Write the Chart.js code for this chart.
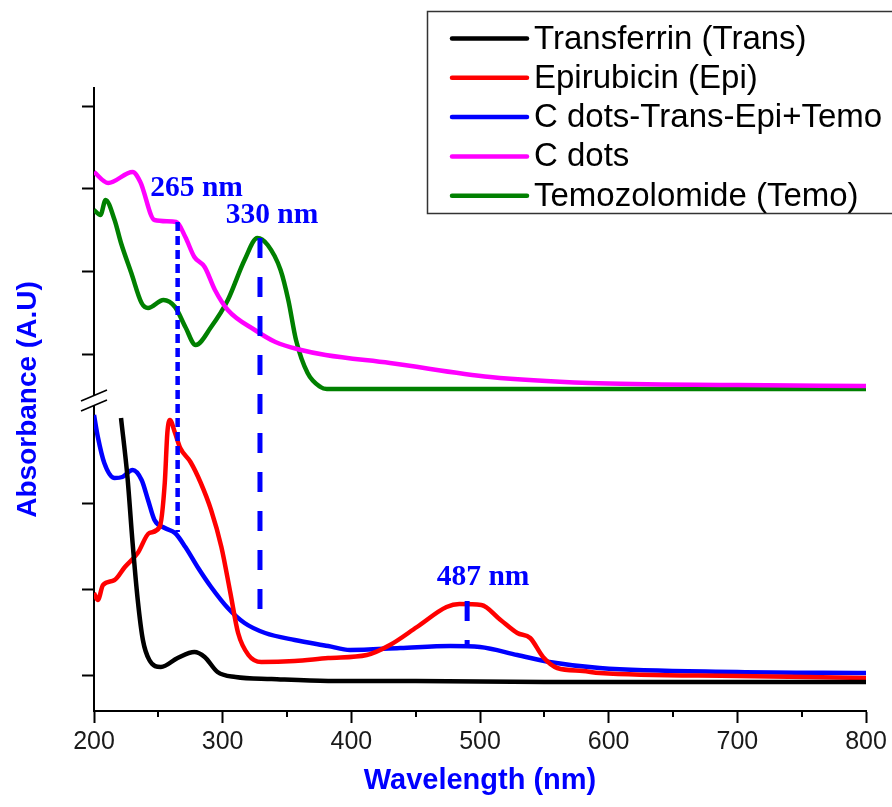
<!DOCTYPE html>
<html>
<head>
<meta charset="utf-8">
<script src="https://cdn.jsdelivr.net/npm/chart.js@4/dist/chart.umd.min.js"></script>
<style>
  html, body { margin: 0; padding: 0; background: #fff; }
  #wrap { width: 892px; height: 807px; }
</style>
</head>
<body>
<div id="wrap"><canvas id="chart" width="892" height="807"></canvas></div>
<script>
// wavelength (nm) / absorbance (arbitrary units, upper curves offset above the axis break)
const transNm  = [221, 226, 230, 234, 238, 243, 252, 265, 278, 286, 296, 310, 338, 382, 450, 550, 650, 800];
const transAbs = [2.93, 2.34, 1.68, 1.11, 0.71, 0.51, 0.44, 0.53, 0.59, 0.54, 0.39, 0.34, 0.32, 0.30, 0.30, 0.29, 0.29, 0.29];

const epiNm  = [200, 203, 207, 216, 224, 234, 243, 251, 255, 257, 259, 263, 267, 275, 283, 291, 299, 306, 312, 320, 330, 356, 382, 412, 430, 451, 474, 484, 501, 516, 529, 539, 549, 560, 580, 593, 700, 800];
const epiAbs = [1.18, 1.11, 1.26, 1.31, 1.44, 1.58, 1.78, 1.84, 2.28, 2.78, 2.91, 2.78, 2.63, 2.49, 2.28, 2.01, 1.64, 1.18, 0.78, 0.56, 0.49, 0.50, 0.53, 0.56, 0.66, 0.84, 1.04, 1.07, 1.06, 0.91, 0.78, 0.73, 0.54, 0.43, 0.40, 0.38, 0.35, 0.33];

const mixNm  = [200, 203, 208, 216, 222, 230, 237, 242, 247, 255, 263, 271, 281, 291, 304, 317, 333, 356, 382, 399, 438, 477, 500, 529, 554, 593, 700, 800];
const mixAbs = [2.96, 2.74, 2.48, 2.33, 2.34, 2.41, 2.31, 2.11, 1.91, 1.83, 1.78, 1.64, 1.43, 1.24, 1.03, 0.88, 0.78, 0.71, 0.65, 0.61, 0.63, 0.65, 0.64, 0.56, 0.49, 0.43, 0.39, 0.38];

const cdotsNm  = [200, 211, 230, 236, 247, 264, 271, 278, 286, 294, 304, 325, 341, 361, 380, 430, 508, 585, 700, 800];
const cdotsAbs = [5.39, 5.28, 5.39, 5.29, 4.91, 4.89, 4.74, 4.54, 4.44, 4.21, 4.01, 3.81, 3.69, 3.61, 3.56, 3.48, 3.34, 3.28, 3.26, 3.25];

const temoNm  = [200, 205, 209, 216, 221, 229, 237, 242, 254, 263, 271, 279, 291, 304, 317, 327, 335, 345, 351, 357, 366, 376, 381, 500, 650, 800];
const temoAbs = [5.01, 4.96, 5.11, 4.91, 4.68, 4.38, 4.08, 4.03, 4.11, 4.04, 3.84, 3.66, 3.84, 4.11, 4.51, 4.73, 4.66, 4.41, 4.11, 3.71, 3.38, 3.24, 3.22, 3.22, 3.22, 3.22];

const seriesNames = ["Transferrin (Trans)", "Epirubicin (Epi)", "C dots-Trans-Epi+Temo", "C dots", "Temozolomide (Temo)"];
const seriesColors = ["#000000", "#ff0000", "#0000ff", "#ff00ff", "#008000"];

const xTicks = [200, 300, 400, 500, 600, 700, 800];
const xMinorTicks = [250, 350, 450, 550, 650, 750];
const yTicks = [0.36, 1.22, 2.08, 3.57, 4.40, 5.23, 6.05];
const yBreak = 3.11;

// peak markers
const markerNm = [265, 329, 490];
const markerTop = [4.89, 4.73, 1.10];
const markerBottom = [1.79, 0.96, 0.63];
const markerText = ["265 nm", "330 nm", "487 nm"];

function pts(xs, ys) {
    return xs.map((x, i) => ({ x: x, y: ys[i] }));
}

const allData = [
    pts(transNm, transAbs),
    pts(epiNm, epiAbs),
    pts(mixNm, mixAbs),
    pts(cdotsNm, cdotsAbs),
    pts(temoNm, temoAbs)
];

let datasets = allData.map((d, i) => ({
    label: seriesNames[i],
    data: d,
    borderColor: seriesColors[i],
    backgroundColor: seriesColors[i],
    borderWidth: 4.5,
    pointRadius: 0,
    cubicInterpolationMode: "monotone",
    fill: false
}));

const extras = {
    id: "extras",
    afterDatasetsDraw(chart) {
        const ctx = chart.ctx;
        const xs = chart.scales.x, ys = chart.scales.y;

        // dashed peak lines
        const dashes = [[9, 5], [20, 19], [20, 19]];
        const widths = [4.5, 5, 5];
        const labelOff = [[19, -34], [12, -23], [16, -24]];
        ctx.save();
        for (let i = 0; i < markerNm.length; i++) {
            const px = xs.getPixelForValue(markerNm[i]);
            ctx.strokeStyle = "#0000ff";
            ctx.lineWidth = widths[i];
            ctx.setLineDash(dashes[i]);
            ctx.beginPath();
            ctx.moveTo(px, ys.getPixelForValue(markerTop[i]));
            ctx.lineTo(px, ys.getPixelForValue(markerBottom[i]));
            ctx.stroke();
        }
        ctx.setLineDash([]);
        ctx.fillStyle = "#0000ff";
        ctx.font = "bold 29.5px 'Liberation Serif', 'Times New Roman', serif";
        ctx.textAlign = "center";
        ctx.textBaseline = "middle";
        for (let i = 0; i < markerNm.length; i++) {
            const px = xs.getPixelForValue(markerNm[i]);
            const py = ys.getPixelForValue(markerTop[i]);
            ctx.fillText(markerText[i], px + labelOff[i][0], py + labelOff[i][1]);
        }
        ctx.restore();
    },
    afterDraw(chart) {
        const ctx = chart.ctx;
        const xs = chart.scales.x, ys = chart.scales.y;
        const area = chart.chartArea;
        ctx.save();

        // minor ticks on x axis
        ctx.strokeStyle = "#000";
        ctx.lineWidth = 2;
        xMinorTicks.forEach(v => {
            const px = Math.round(xs.getPixelForValue(v));
            ctx.beginPath();
            ctx.moveTo(px, area.bottom);
            ctx.lineTo(px, area.bottom + 6);
            ctx.stroke();
        });

        // axis break
        const by = ys.getPixelForValue(yBreak);
        const ax = area.left;
        ctx.fillStyle = "#fff";
        ctx.fillRect(ax - 3, by - 5, 6, 10);
        ctx.strokeStyle = "#000";
        ctx.lineWidth = 1.6;
        ctx.beginPath();
        ctx.moveTo(ax - 13, by + 1);
        ctx.lineTo(ax + 13, by - 10);
        ctx.moveTo(ax - 13, by + 11);
        ctx.lineTo(ax + 13, by);
        ctx.stroke();

        // legend
        ctx.strokeStyle = "#333";
        ctx.lineWidth = 1.5;
        ctx.strokeRect(427.5, 11.5, 480, 202);
        ctx.font = "33px 'Liberation Sans', Arial, sans-serif";
        ctx.textAlign = "left";
        ctx.textBaseline = "middle";
        for (let i = 0; i < seriesNames.length; i++) {
            const y = 38.5 + i * 39.3;
            ctx.strokeStyle = seriesColors[i];
            ctx.lineWidth = 4.5;
            ctx.lineCap = "round";
            ctx.beginPath();
            ctx.moveTo(452, y);
            ctx.lineTo(527, y);
            ctx.stroke();
            ctx.fillStyle = "#000";
            ctx.fillText(seriesNames[i], 534, y + 1);
        }
        ctx.restore();
    }
};

new Chart(document.getElementById("chart").getContext("2d"), {
    type: "line",
    data: { datasets: datasets },
    options: {
        responsive: false,
        animation: false,
        events: [],
        layout: { padding: { top: 88, right: 26, left: 0, bottom: 0 } },
        plugins: { legend: { display: false }, tooltip: { enabled: false } },
        scales: {
            x: {
                type: "linear",
                min: 200,
                max: 800,
                afterFit: s => { s.height = 96; },
                afterBuildTicks: s => { s.ticks = xTicks.map(v => ({ value: v })); },
                border: { color: "#000", width: 2 },
                grid: { drawOnChartArea: false, drawTicks: true, tickLength: 12, tickWidth: 2, tickColor: "#000" },
                ticks: { color: "#1a1a1a", padding: 4, maxRotation: 0, font: { family: "'Liberation Sans', Arial, sans-serif", size: 25 } },
                title: {
                    display: true,
                    text: "Wavelength (nm)",
                    color: "#0000ff",
                    padding: { top: 0, bottom: 9 },
                    font: { family: "'Liberation Sans', Arial, sans-serif", size: 29, weight: "bold" }
                }
            },
            y: {
                type: "linear",
                min: 0,
                max: 6.23,
                afterFit: s => { s.width = 94; },
                afterBuildTicks: s => { s.ticks = yTicks.map(v => ({ value: v })); },
                border: { color: "#000", width: 2 },
                grid: { drawOnChartArea: false, drawTicks: true, tickLength: 12, tickWidth: 2, tickColor: "#000" },
                ticks: { display: false },
                title: {
                    display: true,
                    text: "Absorbance (A.U)",
                    color: "#0000ff",
                    padding: { top: 11, bottom: 0 },
                    font: { family: "'Liberation Sans', Arial, sans-serif", size: 28, weight: "bold" }
                }
            }
        }
    },
    plugins: [extras]
});
</script>
</body>
</html>
